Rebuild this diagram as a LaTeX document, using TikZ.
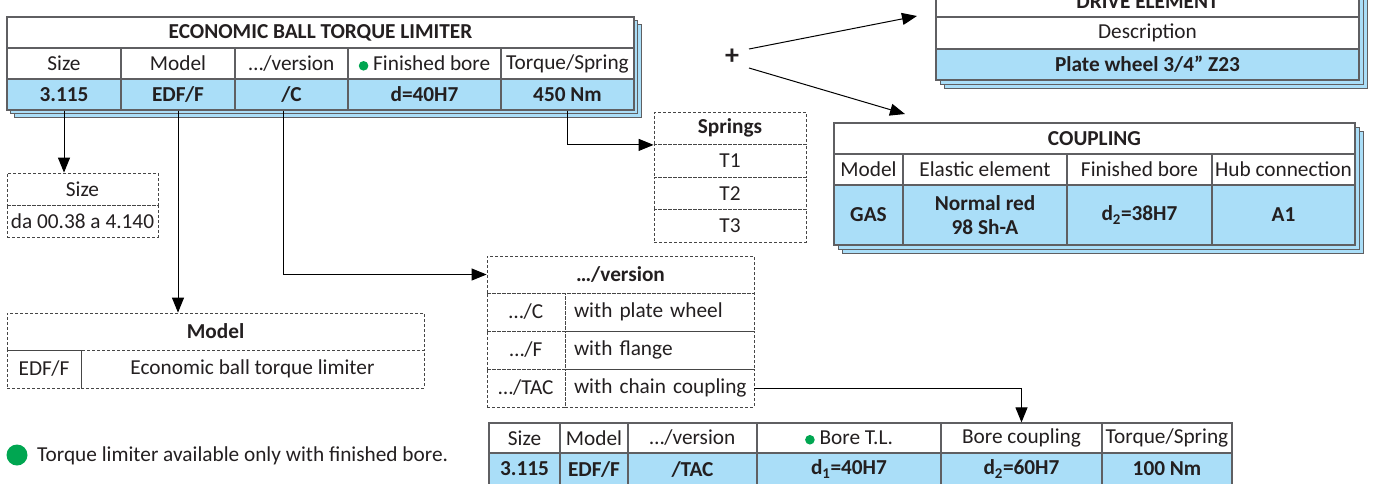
\documentclass[tikz,border=0pt]{standalone}
\usepackage{fontspec}
\setmainfont{Carlito}
\usetikzlibrary{arrows.meta}
\definecolor{lblue}{RGB}{170,222,248}
\definecolor{tline}{RGB}{95,95,98}
\definecolor{dline}{RGB}{70,70,70}
\definecolor{txt}{RGB}{35,31,32}
\definecolor{dotgreen}{RGB}{0,166,81}
\newcommand\fs{\fontsize{21.3}{24}\selectfont}
\newcommand\gdot{\tikz[baseline=-5pt]\fill[dotgreen](0,0) circle (4.8pt);}
% name, x1, y1, x2, y2, style, text
\newcommand\cell[7]{\node[#6, minimum width={(#4)-(#2)}, minimum height={(#5)-(#3)}] (#1) at ({((#2)+(#4))/2},{-((#3)+(#5))/2}) {#7};}
\newcommand\backsheet[5]{\filldraw[fill=lblue, draw=tline, line width=1pt] ({(#1)+(#5)},{-((#2)+(#5))}) rectangle ({(#3)+(#5)},{-((#4)+(#5))});}
\tikzset{
  tcell/.style={draw=tline, line width=1.2pt, fill=white, inner sep=0pt, text=txt, font=\fs, align=center},
  tdata/.style={tcell, fill=lblue, font=\fs\bfseries},
  dcell/.style={draw=dline, dashed, dash pattern=on 3pt off 2pt, line width=0.8pt, inner sep=0pt, text=txt, font=\fs, align=center},
  dleft/.style={dcell, align=left, inner xsep=9pt, text width=171pt},
  conn/.style={draw=black, line width=1pt, -{Triangle[length=15pt,width=12pt]}}
}
\begin{document}
\begin{tikzpicture}[x=1pt,y=1pt]
\useasboundingbox (0,0) rectangle (1375,-483);
\clip (0,0) rectangle (1375,-483);

% ===== Economic ball torque limiter =====
\backsheet{7}{17}{634}{110}{7}
\backsheet{7}{17}{634}{110}{3.5}
\cell{mt-t}{7}{17}{634}{48}{tcell}{\bfseries ECONOMIC BALL TORQUE LIMITER}
\cell{mt-h1}{7}{48}{121}{79}{tcell}{Size}
\cell{mt-h2}{121}{48}{235}{79}{tcell}{Model}
\cell{mt-h3}{235}{48}{348}{79}{tcell}{…/version}
\cell{mt-h4}{348}{48}{501}{79}{tcell}{\gdot\ Finished bore}
\cell{mt-h5}{501}{48}{634}{79}{tcell}{Torque/Spring}
\cell{mt-d1}{7}{79}{121}{110}{tdata}{3.115}
\cell{mt-d2}{121}{79}{235}{110}{tdata}{EDF/F}
\cell{mt-d3}{235}{79}{348}{110}{tdata}{/C}
\cell{mt-d4}{348}{79}{501}{110}{tdata}{d=40H7}
\cell{mt-d5}{501}{79}{634}{110}{tdata}{450 Nm}

% ===== Drive element =====
\backsheet{936}{-14}{1359}{80}{8}
\backsheet{936}{-14}{1359}{80}{4}
\cell{de-t}{936}{-14}{1359}{17}{tcell}{\bfseries DRIVE ELEMENT}
\cell{de-h}{936}{17}{1359}{49}{tcell}{Description}
\cell{de-d}{936}{49}{1359}{80}{tdata}{Plate wheel 3/4” Z23}

% ===== Coupling =====
\backsheet{834}{123}{1355}{245}{8}
\backsheet{834}{123}{1355}{245}{4}
\cell{cp-t}{834}{123}{1355}{154}{tcell}{\bfseries COUPLING}
\cell{cp-h1}{834}{154}{903}{185}{tcell}{Model}
\cell{cp-h2}{903}{154}{1067}{185}{tcell}{Elastic element}
\cell{cp-h3}{1067}{154}{1212}{185}{tcell}{Finished bore}
\cell{cp-h4}{1212}{154}{1355}{185}{tcell}{Hub connection}
\cell{cp-d1}{834}{185}{903}{245}{tdata}{GAS}
\cell{cp-d2}{903}{185}{1067}{245}{tdata}{Normal red\\98 Sh-A}
\cell{cp-d3}{1067}{185}{1212}{245}{tdata}{d\textsubscript{2}=38H7}
\cell{cp-d4}{1212}{185}{1355}{245}{tdata}{A1}

% ===== Bottom table =====
\cell{bt-h1}{489}{423}{560}{453}{tcell}{Size}
\cell{bt-h2}{560}{423}{628}{453}{tcell}{Model}
\cell{bt-h3}{628}{423}{757}{453}{tcell}{…/version}
\cell{bt-h4}{757}{423}{941}{453}{tcell}{\gdot\ Bore T.L.}
\cell{bt-h5}{941}{423}{1102}{453}{tcell}{Bore coupling}
\cell{bt-h6}{1102}{423}{1232}{453}{tcell}{Torque/Spring}
\cell{bt-d1}{489}{453}{560}{485}{tdata}{3.115}
\cell{bt-d2}{560}{453}{628}{485}{tdata}{EDF/F}
\cell{bt-d3}{628}{453}{757}{485}{tdata}{/TAC}
\cell{bt-d4}{757}{453}{941}{485}{tdata}{d\textsubscript{1}=40H7}
\cell{bt-d5}{941}{453}{1102}{485}{tdata}{d\textsubscript{2}=60H7}
\cell{bt-d6}{1102}{453}{1232}{485}{tdata}{100 Nm}

% ===== Dashed boxes =====
\cell{sb-h}{7}{173}{158}{205}{dcell}{Size}
\cell{sb-r}{7}{205}{158}{237}{dcell}{da 00.38 a 4.140}

\cell{mb-h}{7}{313}{424}{350}{dcell}{\bfseries Model}
\cell{mb-a}{7}{350}{81}{388}{dcell}{EDF/F}
\cell{mb-b}{81}{350}{424}{388}{dcell}{Economic ball torque limiter}

\cell{vb-h}{487}{256}{754}{293}{dcell}{\bfseries …/version}
\cell{vb-a1}{487}{293}{565}{331}{dcell}{…/C}
\cell{vb-b1}{565}{293}{754}{331}{dleft}{\mbox{with plate wheel}}
\cell{vb-a2}{487}{331}{565}{369}{dcell}{…/F}
\cell{vb-b2}{565}{331}{754}{369}{dleft}{\mbox{with flange}}
\cell{vb-a3}{487}{369}{565}{407}{dcell}{…/TAC}
\cell{vb-b3}{565}{369}{754}{407}{dleft}{\mbox{with chain coupling}}

\cell{sp-h}{654}{112}{806}{144.5}{dcell}{\bfseries Springs}
\cell{sp-1}{654}{144.5}{806}{177}{dcell}{T1}
\cell{sp-2}{654}{177}{806}{209.5}{dcell}{T2}
\cell{sp-3}{654}{209.5}{806}{242}{dcell}{T3}

% ===== Plus and legend =====
\node[font=\fontsize{28}{28}\selectfont\bfseries, text=txt, inner sep=0pt] (plus) at (732,-57) {+};
\coordinate (p1) at (749,-49);
\coordinate (p2) at (749,-68);
\coordinate (deIn) at (917,-16);
\coordinate (cpIn) at (905,-114);

\node[circle, fill=dotgreen, minimum size=21pt, inner sep=0pt] (legdot) at (17,-455) {};
\node[anchor=west, font=\fs, text=txt, inner sep=0pt] (legtxt) at (37,-456) {Torque limiter available only with finished bore.};

% ===== Connectors =====
\draw[conn] (mt-d1.south) -- (mt-d1.south |- sb-h.north);
\draw[conn] (mt-d2.south) -- (mt-d2.south |- mb-h.north);
\draw[conn] ([xshift=-8pt]mt-d3.south) |- (vb-h.west);
\draw[conn] (mt-d5.south) |- (sp-h.south west);
\draw[conn] (vb-b3.east) -| (bt-h5.north);
\draw[conn] (p1) -- (deIn);
\draw[conn] (p2) -- (cpIn);
\end{tikzpicture}
\end{document}
